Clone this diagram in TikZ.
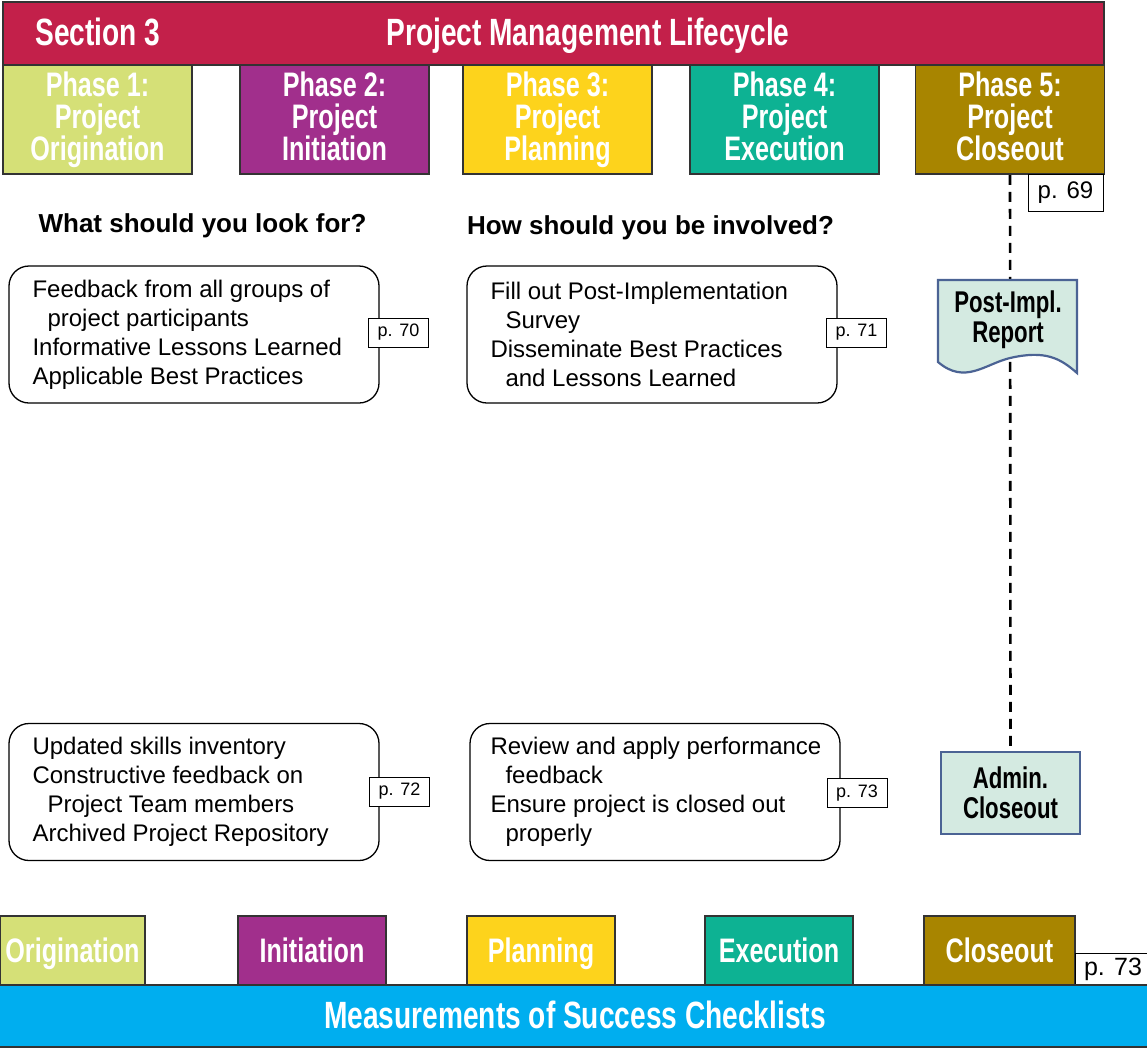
\documentclass[tikz,border=0pt]{standalone}
\usepackage{fontspec}
\setmainfont{Liberation Sans}
\newfontfamily\condfont[FakeStretch=0.74]{Liberation Sans}
\usetikzlibrary{positioning,backgrounds}
\definecolor{lifered}{RGB}{195,32,74}
\definecolor{origgreen}{RGB}{213,224,119}
\definecolor{initpurple}{RGB}{161,47,140}
\definecolor{planyellow}{RGB}{253,211,28}
\definecolor{execteal}{RGB}{13,178,147}
\definecolor{closeolive}{RGB}{168,133,0}
\definecolor{checkblue}{RGB}{0,174,239}
\definecolor{docfill}{RGB}{212,234,225}
\definecolor{docline}{RGB}{75,99,148}
\tikzset{
  frame/.style={draw=black!80, line width=1.6pt},
  bar/.style={frame, inner sep=0pt, text=white,
    font=\condfont\bfseries\fontsize{34}{32}\selectfont},
  bigtitle/.style={text=white, inner sep=0pt, text height=27pt, text depth=0pt,
    font=\condfont\bfseries\fontsize{38}{40}\selectfont},
  phase/.style={bar, align=center, minimum width=189, minimum height=109},
  tab/.style={bar, minimum height=69, text height=24.5pt, text depth=0pt},
  question/.style={font=\bfseries\fontsize{26}{30}\selectfont},
  listbox/.style={draw=black, line width=1.3pt, rounded corners=20pt,
    minimum width=370, minimum height=137},
  listtext/.style={inner sep=0pt, align=left, font=\fontsize{24}{29}\selectfont},
  pagetag/.style={draw=black, line width=1pt, fill=white, inner sep=0pt,
    minimum width=60, minimum height=29, font=\fontsize{18}{20}\selectfont},
  docbox/.style={text=black, align=center, inner sep=0pt,
    font=\condfont\bfseries\fontsize{30}{30}\selectfont},
  linkline/.style={line width=2.6pt, dash pattern=on 10pt off 7pt}
}
\newcommand{\ind}{\hspace*{15pt}}
\begin{document}
\begin{tikzpicture}[x=1pt, y=-1pt]
  \useasboundingbox (0,0) rectangle (1147,1049);
  % Top banner
  \node[bar, fill=lifered, minimum width=1101, minimum height=63] (banner) at (553.5,33.5) {};
  \node[bigtitle] (section) at (98,32) {Section 3};
  \node[bigtitle] (lifecycle) at (588,32) {Project Management Lifecycle};
  % Phases
  \node[phase, fill=origgreen]  (p1) at (97.5,119.5)  {Phase 1:\\Project\\Origination};
  \node[phase, fill=initpurple] (p2) at (334.5,119.5) {Phase 2:\\Project\\Initiation\vphantom{g}};
  \node[phase, fill=planyellow] (p3) at (557.5,119.5) {Phase 3:\\Project\\Planning};
  \node[phase, fill=execteal]   (p4) at (784.5,119.5) {Phase 4:\\Project\\Execution\vphantom{g}};
  \node[phase, fill=closeolive] (p5) at (1010,119.5)  {Phase 5:\\Project\\Closeout\vphantom{g}};
  \node[pagetag, minimum width=75, minimum height=37, font=\fontsize{24}{26}\selectfont] (tag69) at (1065.5,192.5) {p. 69};
  % Questions
  \node[question] (look) at (202.5,226) {What should you look for?};
  \node[question] (involve) at (650.5,228) {How should you be involved?};
  % Lists
  \node[listbox] (look1) at (194,334.5) {};
  \node[listtext, right=24pt of look1.west] (look1text) {Feedback from all groups of\\\ind project participants\\Informative Lessons Learned\\Applicable Best Practices};
  \node[pagetag] (tag70) at (398.5,332.5) {p. 70};
  \node[listbox] (inv1) at (652,334.5) {};
  \node[listtext, right=24pt of inv1.west] (inv1text) {Fill out Post-Implementation\\\ind Survey\\Disseminate Best Practices\\\ind and Lessons Learned};
  \node[pagetag] (tag71) at (856.5,332.5) {p. 71};
  \node[listbox] (look2) at (194,792) {};
  \node[listtext, right=24pt of look2.west] (look2text) {Updated skills inventory\\Constructive feedback on\\\ind Project Team members\\Archived Project Repository};
  \node[pagetag] (tag72) at (399.5,791.5) {p. 72};
  \node[listbox] (inv2) at (655,792) {};
  \node[listtext, right=21pt of inv2.west] (inv2text) {Review and apply performance\\\ind feedback\\Ensure project is closed out\\\ind properly};
  \node[pagetag] (tag73) at (857,793) {p. 73};
  % Deliverables
  \node[docbox] (report) at (1008,320) {Post-Impl.\\Report};
  \node[docbox, draw=docline, line width=2.2pt, fill=docfill, minimum width=139, minimum height=82] (admin) at (1010.5,793) {Admin.\\Closeout};
  \begin{scope}[on background layer]
    \draw[linkline] (p5.south) -- (admin.north);
    \draw[draw=docline, line width=2.2pt, fill=docfill]
      (938,280) -- (1077,280) -- (1077,373)
      .. controls (1060,358) and (1045,350) .. (1010,358)
      .. controls (985,364) and (965,385) .. (938,362) -- cycle;
  \end{scope}
  % Checklists
  \node[tab, fill=origgreen,  minimum width=145] (c1) at (72.5,950.5)  {Origination};
  \node[tab, fill=initpurple, minimum width=148] (c2) at (312,950.5)   {Initiation};
  \node[tab, fill=planyellow, minimum width=148] (c3) at (541,950.5)   {Planning};
  \node[tab, fill=execteal,   minimum width=148] (c4) at (779,950.5)   {Execution};
  \node[tab, fill=closeolive, minimum width=151] (c5) at (999.5,950.5) {Closeout};
  \node[pagetag, minimum width=76, minimum height=32, font=\fontsize{25}{27}\selectfont] (tagbottom) at (1113,969) {p. 73};
  \node[bar, fill=checkblue, minimum width=1150, minimum height=62] (checklists) at (574,1016) {};
  \node[bigtitle] (checktitle) at (575,1015) {Measurements of Success Checklists};
\end{tikzpicture}
\end{document}
